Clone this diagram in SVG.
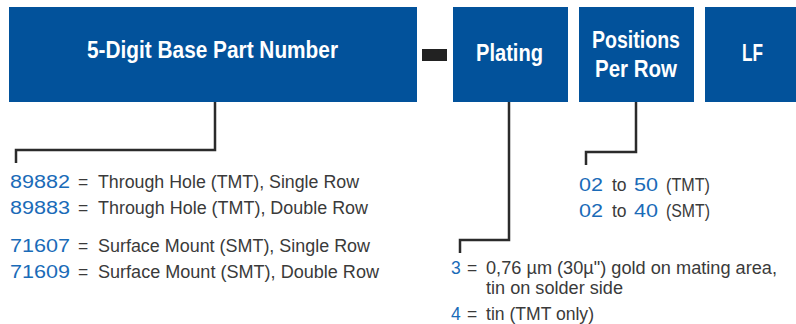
<svg xmlns="http://www.w3.org/2000/svg" width="796" height="324" viewBox="0 0 796 324">
<style>
.box{fill:#02529b}
.h{font-family:"Liberation Sans",Arial,sans-serif;font-weight:bold;font-size:24px;fill:#fff}
.t{font-family:"Liberation Sans",Arial,sans-serif;font-size:17.5px;fill:#3a3a3a}
.n{fill:#1a6bb8}
.c{fill:none;stroke:#2b2b2b;stroke-width:2.5}
</style>
<rect width="796" height="324" fill="#fff"/>
<g id="base"><rect class="box" x="9" y="7" width="408" height="95"/><text class="h" x="87" y="58" textLength="251" lengthAdjust="spacingAndGlyphs">5-Digit Base Part Number</text></g>
<g id="dash"><rect x="422" y="49" width="25" height="12" fill="#222"/></g>
<g id="plating"><rect class="box" x="453" y="7" width="115" height="95"/><text class="h" x="476" y="61" textLength="67" lengthAdjust="spacingAndGlyphs">Plating</text></g>
<g id="positions"><rect class="box" x="579" y="7" width="115" height="95"/><text class="h" x="592" y="48" textLength="88" lengthAdjust="spacingAndGlyphs">Positions</text><text class="h" x="595" y="77" textLength="82" lengthAdjust="spacingAndGlyphs">Per Row</text></g>
<g id="lf"><rect class="box" x="705" y="7" width="91" height="95"/><text class="h" x="742" y="61" textLength="21" lengthAdjust="spacingAndGlyphs">LF</text></g>
<g id="connectors">
<polyline class="c" points="215,102 215,150 16,150 16,163"/>
<polyline class="c" points="509,102 509,240 460,240 460,253"/>
<polyline class="c" points="636,102 636,152 586,152 586,165"/>
</g>
<g id="base-list" class="t">
<text x="10" y="188" class="n" textLength="60" lengthAdjust="spacingAndGlyphs">89882</text><text x="78" y="188">=</text><text x="98" y="188" textLength="261" lengthAdjust="spacingAndGlyphs">Through Hole (TMT), Single Row</text>
<text x="10" y="214" class="n" textLength="60" lengthAdjust="spacingAndGlyphs">89883</text><text x="78" y="214">=</text><text x="98" y="214" textLength="270" lengthAdjust="spacingAndGlyphs">Through Hole (TMT), Double Row</text>
<text x="10" y="252" class="n" textLength="60" lengthAdjust="spacingAndGlyphs">71607</text><text x="78" y="252">=</text><text x="98" y="252" textLength="272" lengthAdjust="spacingAndGlyphs">Surface Mount (SMT), Single Row</text>
<text x="10" y="278" class="n" textLength="60" lengthAdjust="spacingAndGlyphs">71609</text><text x="78" y="278">=</text><text x="98" y="278" textLength="281" lengthAdjust="spacingAndGlyphs">Surface Mount (SMT), Double Row</text>
</g>
<g id="positions-list" class="t">
<text x="579" y="191" class="n" textLength="24" lengthAdjust="spacingAndGlyphs">02</text><text x="612" y="191">to</text><text x="634" y="191" class="n" textLength="24" lengthAdjust="spacingAndGlyphs">50</text><text x="666" y="191" textLength="44" lengthAdjust="spacingAndGlyphs">(TMT)</text>
<text x="579" y="217" class="n" textLength="24" lengthAdjust="spacingAndGlyphs">02</text><text x="612" y="217">to</text><text x="634" y="217" class="n" textLength="24" lengthAdjust="spacingAndGlyphs">40</text><text x="666" y="217" textLength="44" lengthAdjust="spacingAndGlyphs">(SMT)</text>
</g>
<g id="plating-list" class="t">
<text x="451" y="274" class="n">3</text><text x="467" y="274">=</text><text x="486" y="274" textLength="291" lengthAdjust="spacingAndGlyphs">0,76 µm (30µ") gold on mating area,</text>
<text x="486" y="294" textLength="137" lengthAdjust="spacingAndGlyphs">tin on solder side</text>
<text x="451" y="320" class="n">4</text><text x="467" y="320">=</text><text x="486" y="320" textLength="108" lengthAdjust="spacingAndGlyphs">tin (TMT only)</text>
</g>
</svg>
